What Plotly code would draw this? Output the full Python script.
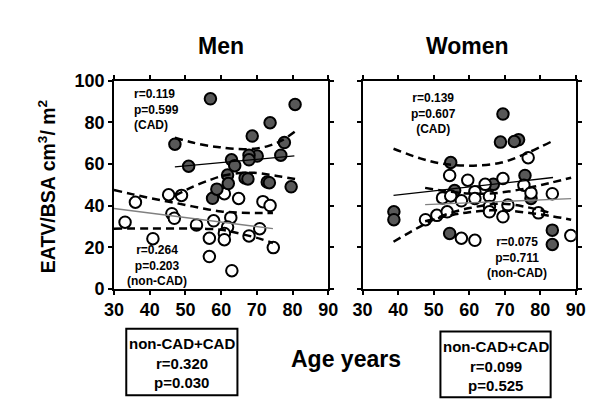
import plotly.graph_objects as go

# ---------------- data ----------------
men_cad_age = [57.0, 47.05, 50.9, 80.7, 73.7, 68.7, 77.7, 76.7, 70.1, 67.8, 67.8, 62.9, 63.8, 61.8,
               62.0, 66.7, 67.5, 72.9, 73.5, 79.6, 57.6, 58.8]
men_cad_eatv = [91.3, 69.5, 58.9, 88.6, 79.8, 73.4, 70.3, 64.2, 63.8, 64.2, 62.0, 62.0, 59.2, 54.7,
                50.6, 53.3, 52.8, 51.3, 51.0, 49.0, 43.5, 47.9]

men_non_age = [33.1, 36.0, 40.9, 45.3, 46.2, 46.9, 48.9, 53.1, 56.7, 56.7, 57.9, 60.9, 64.9, 71.7,
               73.7, 62.7, 61.8, 60.9, 60.9, 67.8, 70.8, 74.6, 63.0]
men_non_eatv = [32.0, 41.6, 24.1, 45.2, 36.1, 33.9, 44.9, 30.7, 24.3, 15.5, 32.7, 45.7, 43.4, 41.9,
                40.0, 34.2, 29.7, 26.6, 23.6, 25.4, 28.9, 19.8, 8.7]

women_cad_age = [38.8, 38.8, 54.5, 55.9, 54.8, 66.8, 73.9, 72.7, 68.8, 69.5, 75.7, 77.4, 83.4, 83.4]
women_cad_eatv = [37.0, 33.2, 26.6, 47.2, 60.7, 50.2, 71.6, 70.8, 70.5, 84.0, 54.5, 43.4, 28.2, 21.3]

women_non_age = [47.7, 50.9, 53.8, 57.8, 61.6, 52.5, 54.8, 54.5, 57.8, 59.6, 61.6, 61.6, 64.5, 65.7,
                 65.7, 65.7, 69.5, 69.5, 70.9, 76.6, 75.4, 77.4, 79.5, 83.4, 88.6]
women_non_eatv = [33.2, 35.3, 37.0, 24.3, 23.3, 43.7, 44.6, 54.5, 42.3, 52.2, 46.7, 43.4, 50.2, 44.4,
                  39.6, 37.0, 53.0, 34.6, 40.3, 63.0, 49.8, 46.1, 36.5, 45.7, 25.6]

# regression lines
men_cad_fit_x = [47.05, 80.5]
men_cad_fit_y = [58.6, 63.9]
men_non_fit_x = [30.0, 74.5]
men_non_fit_y = [38.6, 28.9]
women_cad_fit_x = [38.7, 83.6]
women_cad_fit_y = [44.9, 53.5]
women_non_fit_x = [47.6, 88.7]
women_non_fit_y = [40.5, 43.3]

# confidence bands
men_cad_up_x = [47.05, 52, 57, 60, 64, 69, 73.5, 77, 80.7]
men_cad_up_y = [72.6, 70.3, 68.6, 68.0, 67.2, 67.3, 68.8, 71.3, 75.6]
men_cad_lo_x = [47.05, 52, 57, 60, 64, 69, 73.5, 77, 80.7]
men_cad_lo_y = [44.8, 49.0, 52.4, 54.1, 55.4, 55.8, 54.8, 53.8, 52.8]

men_non_up_x = [30, 35, 40, 45, 50, 55, 60, 65, 70, 74.5]
men_non_up_y = [47.5, 45.5, 43.6, 42.0, 40.3, 38.6, 37.2, 36.6, 36.4, 36.4]
men_non_lo_x = [30, 40, 50, 56, 60, 63, 67, 71, 74.5]
men_non_lo_y = [28.9, 29.0, 29.0, 28.8, 28.4, 27.4, 25.8, 24.0, 22.0]

women_cad_up_x = [38.7, 46.2, 52.5, 60.1, 69.1, 76.4, 83.2]
women_cad_up_y = [67.3, 62.7, 60.1, 59.2, 60.7, 65.3, 70.8]
women_cad_lo_x = [38.7, 46.2, 52.5, 60.1, 69.1, 76.4, 83.2]
women_cad_lo_y = [22.6, 29.9, 35.1, 38.8, 40.9, 39.2, 36.3]

women_non_up_x = [47.6, 55, 60, 66, 72, 78, 83, 88.7]
women_non_up_y = [48.5, 46.6, 45.8, 45.8, 47.0, 49.0, 51.0, 53.4]
women_non_lo_x = [47.6, 55, 60, 66, 72, 78, 83, 88.7]
women_non_lo_y = [32.5, 35.4, 36.8, 37.7, 37.4, 36.2, 35.0, 33.2]

x_ticks = [30, 40, 50, 60, 70, 80, 90]
y_ticks = [0, 20, 40, 60, 80, 100]

FONT = "Liberation Sans, Arial, sans-serif"
FILL = "#585858"
GRAY = "#808080"

fig = go.Figure()


def scatter(x, y, fill, xa, ya):
    fig.add_trace(go.Scatter(x=x, y=y, mode="markers", xaxis=xa, yaxis=ya,
                             marker=dict(size=11.5, color=fill, line=dict(color="black", width=2)),
                             showlegend=False, hoverinfo="skip"))


def line(x, y, color, width, dash, xa, ya, shape="linear"):
    fig.add_trace(go.Scatter(x=x, y=y, mode="lines", xaxis=xa, yaxis=ya,
                             line=dict(color=color, width=width, dash=dash, shape=shape),
                             showlegend=False, hoverinfo="skip"))


# Men panel
scatter(men_non_age, men_non_eatv, "white", "x", "y")
scatter(men_cad_age, men_cad_eatv, FILL, "x", "y")
line(men_cad_fit_x, men_cad_fit_y, "black", 1.3, "solid", "x", "y")
line(men_non_fit_x, men_non_fit_y, GRAY, 1.3, "solid", "x", "y")
for bx, by in [(men_cad_up_x, men_cad_up_y), (men_cad_lo_x, men_cad_lo_y),
               (men_non_up_x, men_non_up_y), (men_non_lo_x, men_non_lo_y)]:
    line(bx, by, "black", 2.5, "8px,5px", "x", "y", "spline")

# Women panel
scatter(women_cad_age, women_cad_eatv, FILL, "x2", "y2")
scatter(women_non_age, women_non_eatv, "white", "x2", "y2")
line(women_cad_fit_x, women_cad_fit_y, "black", 1.3, "solid", "x2", "y2")
line(women_non_fit_x, women_non_fit_y, GRAY, 1.3, "solid", "x2", "y2")
for bx, by in [(women_cad_up_x, women_cad_up_y), (women_cad_lo_x, women_cad_lo_y),
               (women_non_up_x, women_non_up_y), (women_non_lo_x, women_non_lo_y)]:
    line(bx, by, "black", 2.5, "8px,5px", "x2", "y2", "spline")

W, H = 600, 402
ydom = [1 - 285 / H, 1 - 66 / H]
axis_common = dict(range=[30, 90], tickvals=x_ticks, ticks="outside", ticklen=4, tickwidth=1.5,
                   tickcolor="black", showline=True, linecolor="black", linewidth=1.5,
                   mirror="ticks", showgrid=False, zeroline=False,
                   tickfont=dict(family=FONT, size=18, color="black", weight="bold"))
yaxis_common = dict(range=[0, 100], tickvals=y_ticks, ticks="outside", ticklen=4, tickwidth=1.5,
                    tickcolor="black", showline=True, linecolor="black", linewidth=1.5,
                    mirror="ticks", showgrid=False, zeroline=False,
                    tickfont=dict(family=FONT, size=18, color="black", weight="bold"))

fig.update_layout(
    width=W, height=H, margin=dict(l=0, r=0, t=0, b=0),
    paper_bgcolor="white", plot_bgcolor="white",
    xaxis=dict(domain=[99.3 / W, 321 / W], anchor="y", **axis_common),
    yaxis=dict(domain=ydom, anchor="x", **yaxis_common),
    xaxis2=dict(domain=[356.5 / W, 577 / W], anchor="y2", **axis_common),
    yaxis2=dict(domain=ydom, anchor="x2", showticklabels=False, **yaxis_common),
)

annotations = []


def text(px, py, s, size, align="center", angle=0):
    annotations.append(dict(x=px / W, y=1 - py / H, xref="paper", yref="paper", text=s,
                            showarrow=False, xanchor=align, yanchor="middle", align=align,
                            textangle=angle,
                            font=dict(family=FONT, size=size, color="black", weight="bold")))


text(210, 29, "Men", 23)
text(465, 29, "Women", 23)
text(339, 359, "Age years", 23)
text(30, 177, "EATV/BSA cm<sup>3</sup>/ m<sup>2</sup>", 19.5, angle=-90)

text(117.5, 96.7, "r=0.119<br>p=0.599<br>(CAD)", 12, align="left")
text(143.7, 260.4, "r=0.264<br>p=0.203<br>(non-CAD)", 12)
text(430, 101, "r=0.139<br>p=0.607<br>(CAD)", 12)
text(516, 252.5, "r=0.075<br>p=0.711<br>(non-CAD)", 12)

for i, s in enumerate(["non-CAD+CAD", "r=0.320", "p=0.030"]):
    text(169.5, 342.7 + 20.5 * i, s, 15)
for i, s in enumerate(["non-CAD+CAD", "r=0.099", "p=0.525"]):
    text(494, 346 + 20.5 * i, s, 15)

fig.update_layout(annotations=annotations)

fig.add_shape(type="rect", xref="paper", yref="paper", x0=112 / W, x1=227 / W,
              y0=1 - 397 / H, y1=1 - 327 / H, line=dict(color="black", width=2))
fig.add_shape(type="rect", xref="paper", yref="paper", x0=437 / W, x1=551 / W,
              y0=1 - 399 / H, y1=1 - 330 / H, line=dict(color="black", width=2))

fig.write_html("out.html")
